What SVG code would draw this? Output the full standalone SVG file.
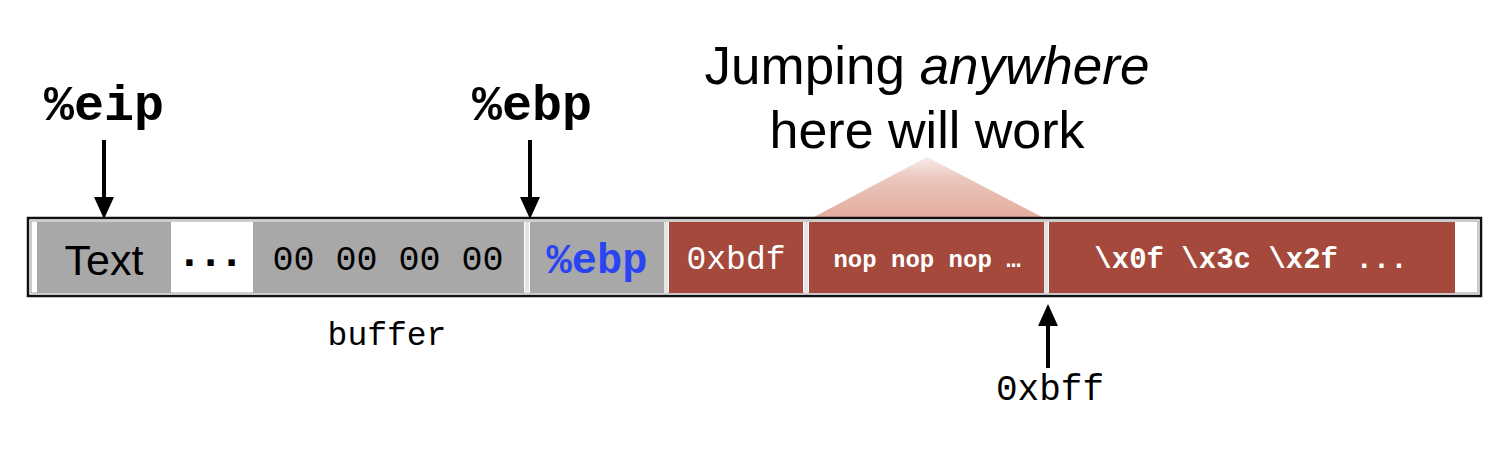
<svg xmlns="http://www.w3.org/2000/svg" width="1510" height="456" viewBox="0 0 1510 456">
<defs>
<linearGradient id="tri" x1="0" y1="157" x2="0" y2="218" gradientUnits="userSpaceOnUse">
<stop offset="0" stop-color="#f8ecea"/>
<stop offset="0.35" stop-color="#ebc6bd"/>
<stop offset="1" stop-color="#e2ad9f"/>
</linearGradient>
<marker id="ahd" viewBox="0 0 20 22" refX="10" refY="0" markerWidth="20" markerHeight="22" markerUnits="userSpaceOnUse" orient="0">
<path d="M0,0 L20,0 L10,22 Z" fill="#000"/>
</marker>
<marker id="ahu" viewBox="0 0 20 22" refX="10" refY="22" markerWidth="20" markerHeight="22" markerUnits="userSpaceOnUse" orient="0">
<path d="M10,0 L20,22 L0,22 Z" fill="#000"/>
</marker>
</defs>
<style>
.gray{fill:#a7a8a7}
.red{fill:#a4493b}
.sep{fill:#e4e4e4}
.sans{font-family:"Liberation Sans",Arial,sans-serif}
.mono{font-family:"Liberation Mono","Courier New",monospace}
.lbl{font-family:"Liberation Mono","Courier New",monospace;fill:#000}
.conn{stroke:#000;stroke-width:4;fill:none}
</style>
<rect width="1510" height="456" fill="#fff"/>
<g id="callout">
<polygon points="927,157 812,218 1044,218" fill="url(#tri)"/>
<text class="sans" x="927" y="84" font-size="53" text-anchor="middle" fill="#000">Jumping <tspan font-style="italic">anywhere</tspan></text>
<text class="sans" x="927" y="148" font-size="52" text-anchor="middle" fill="#000">here will work</text>
</g>
<g id="stack">
<rect x="28" y="218" width="1453" height="78" fill="#fff" stroke="#111" stroke-width="2.5"/>
<rect x="31" y="221" width="1447" height="72" fill="none" stroke="#9a9a9a" stroke-width="1"/>
<rect class="sep" x="525" y="222" width="4" height="71"/>
<rect class="sep" x="664" y="222" width="4" height="71"/>
<rect class="sep" x="804" y="222" width="4" height="71"/>
<rect class="sep" x="1044" y="222" width="4" height="71"/>
</g>
<g id="cell-text">
<rect class="gray" x="37" y="222" width="134" height="71"/>
<text class="sans" x="104" y="275" font-size="43" text-anchor="middle" fill="#000">Text</text>
</g>
<g id="cell-dots">
<text class="sans" x="215" y="266" font-size="44" font-weight="bold" text-anchor="middle" fill="#000" letter-spacing="9">...</text>
</g>
<g id="cell-buffer">
<rect class="gray" x="253" y="222" width="271" height="71"/>
<text class="mono" x="388" y="270" font-size="35" text-anchor="middle" fill="#000">00 00 00 00</text>
</g>
<g id="cell-ebp">
<rect class="gray" x="530" y="222" width="134" height="71"/>
<text class="mono" x="597" y="273" font-size="42" font-weight="bold" text-anchor="middle" fill="#2a44f2">%ebp</text>
</g>
<g id="cell-ret">
<rect class="red" x="669" y="222" width="134" height="71"/>
<text class="mono" x="736" y="269" font-size="33" text-anchor="middle" fill="#fff">0xbdf</text>
</g>
<g id="cell-nop">
<rect class="red" x="809" y="222" width="235" height="71"/>
<text class="mono" x="927" y="267" font-size="24" font-weight="bold" text-anchor="middle" fill="#fff">nop nop nop …</text>
</g>
<g id="cell-shellcode">
<rect class="red" x="1049" y="222" width="406" height="71"/>
<text class="mono" x="1251" y="268" font-size="29" font-weight="bold" text-anchor="middle" fill="#fff">\x0f \x3c \x2f ...</text>
</g>
<g id="label-eip">
<text class="lbl" x="104" y="120" font-size="50" font-weight="bold" text-anchor="middle">%eip</text>
</g>
<g id="label-ebp">
<text class="lbl" x="532" y="120" font-size="50" font-weight="bold" text-anchor="middle">%ebp</text>
</g>
<g id="label-buffer">
<text class="lbl" x="387" y="345" font-size="33" text-anchor="middle">buffer</text>
</g>
<g id="label-0xbff">
<text class="lbl" x="1050" y="400" font-size="36" text-anchor="middle">0xbff</text>
</g>
<g id="connectors">
<line class="conn" x1="104" y1="140" x2="104" y2="197" marker-end="url(#ahd)"/>
<line class="conn" x1="530" y1="140" x2="530" y2="197" marker-end="url(#ahd)"/>
<line class="conn" x1="1048" y1="368" x2="1048" y2="326" marker-end="url(#ahu)"/>
</g>
</svg>
